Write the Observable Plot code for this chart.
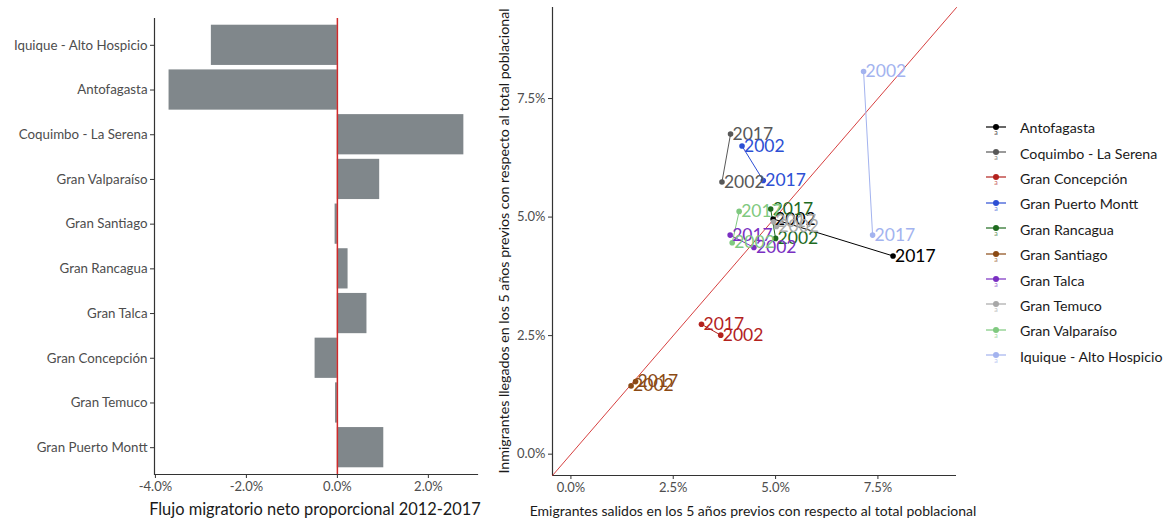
<!DOCTYPE html>
<html>
<head>
<meta charset="utf-8">
<script src="https://cdn.jsdelivr.net/npm/d3@7"></script>
<script src="https://cdn.jsdelivr.net/npm/@observablehq/plot@0.6"></script>
<style>
  html, body { margin: 0; padding: 0; background: #fff; }
  #wrap { position: relative; width: 1167px; height: 520px; font-family: Lato, "Open Sans", sans-serif; overflow: hidden; }
  .panel { position: absolute; top: 0; }
  .title { position: absolute; white-space: nowrap; color: #1a1a1a; }
  #legend { position: absolute; left: 984px; top: 115px; }
  .lrow { display: flex; align-items: center; height: 25.4px; font-size: 14.2px; color: #1a1a1a; }
  .lrow svg { margin-right: 12px; }
</style>
</head>
<body>
<div id="wrap">
  <div id="left" class="panel" style="left:0"></div>
  <div id="right" class="panel" style="left:490px"></div>
  <div class="title" id="xt1" style="left:315px; top:508px; transform:translate(-50%,-50%); font-size:16.4px;">Flujo migratorio neto proporcional 2012-2017</div>
  <div class="title" id="xt2" style="left:753px; top:510px; transform:translate(-50%,-50%); font-size:14px;">Emigrantes salidos en los 5 años previos con respecto al total poblacional</div>
  <div class="title" id="yt2" style="left:503px; top:241px; transform:translate(-50%,-50%) rotate(-90deg); font-size:14.2px;">Inmigrantes llegados en los 5 años previos con respecto al total poblacional</div>
  <div id="legend"></div>
</div>
<script>
// Net proportional migration flow 2012-2017, bars listed top to bottom
const barCities = ["Iquique - Alto Hospicio", "Antofagasta", "Coquimbo - La Serena", "Gran Valparaíso",
  "Gran Santiago", "Gran Rancagua", "Gran Talca", "Gran Concepción", "Gran Temuco", "Gran Puerto Montt"];
const netFlow = [-2.77, -3.70, 2.78, 0.93, -0.05, 0.235, 0.65, -0.49, -0.04, 1.02];

// Emigrants and immigrants in the previous 5 years (% of population), by census year
const cities = ["Antofagasta", "Coquimbo - La Serena", "Gran Concepción", "Gran Puerto Montt", "Gran Rancagua",
  "Gran Santiago", "Gran Talca", "Gran Temuco", "Gran Valparaíso", "Iquique - Alto Hospicio"];
const cityColors = ["#000000", "#585858", "#b3221e", "#2d4fd4", "#1f6b1f", "#8b4a14", "#7a2fc2", "#a8a8a8", "#7fc97f", "#a3b3ef"];
const years = ["2002", "2017"];
const emig2002 = [4.94, 3.69, 3.66, 4.18, 5.00, 1.47, 4.47, 5.02, 3.94, 7.15];
const inmig2002 = [4.96, 5.74, 2.51, 6.50, 4.55, 1.44, 4.36, 4.80, 4.46, 8.07];
const emig2017 = [7.87, 3.90, 3.19, 4.70, 4.88, 1.58, 3.89, 4.95, 4.11, 7.37];
const inmig2017 = [4.18, 6.75, 2.74, 5.77, 5.17, 1.53, 4.62, 4.90, 5.12, 4.62];

const leftTicks = [-4, -2, 0, 2];
const rightTicks = [0, 2.5, 5, 7.5];
const leftDomain = [-4.02, 3.08];
const rightDomain = [-0.45, 9.42];

const pct = d => d.toFixed(1) + "%";
const axisColor = "#333333";
const tickText = "#4d4d4d";
const redLine = "#d12a2a";

// ---- bar panel ----
const bars = barCities.map((c, i) => ({city: c, net: netFlow[i]}));
const left = Plot.plot({
  width: 490, height: 520,
  marginLeft: 154, marginRight: 13, marginTop: 18, marginBottom: 46,
  style: {fontFamily: "Lato, 'Open Sans', sans-serif", background: "transparent", color: tickText},
  x: {domain: leftDomain},
  y: {domain: barCities, paddingInner: 0.1, paddingOuter: 0.15, round: false},
  marks: [
    Plot.barX(bars, {y: "city", x: "net", fill: "#80878b"}),
    Plot.ruleX([0], {stroke: redLine, strokeWidth: 1.5}),
    Plot.ruleX([leftDomain[0]], {stroke: axisColor, strokeWidth: 1.2}),
    Plot.frame({anchor: "bottom", stroke: axisColor, strokeWidth: 1.2}),
    Plot.axisX({ticks: leftTicks, tickFormat: pct, tickSize: 4, tickPadding: 3, fontSize: 13, label: null, stroke: axisColor, fill: tickText}),
    Plot.axisY({tickSize: 4, tickPadding: 3, fontSize: 13.3, label: null, stroke: axisColor, fill: tickText})
  ]
});
document.getElementById("left").append(left);

// ---- scatter panel ----
const points = [];
cities.forEach((c, i) => {
  points.push({city: c, year: years[0], emig: emig2002[i], inmig: inmig2002[i]});
  points.push({city: c, year: years[1], emig: emig2017[i], inmig: inmig2017[i]});
});
const diagonal = [rightDomain[0], rightDomain[1]].map(v => ({emig: v, inmig: v}));

const right = Plot.plot({
  width: 480, height: 520,
  marginLeft: 62, marginRight: 14, marginTop: 7, marginBottom: 45,
  style: {fontFamily: "Lato, 'Open Sans', sans-serif", background: "transparent", color: tickText},
  x: {domain: rightDomain},
  y: {domain: rightDomain},
  color: {domain: cities, range: cityColors},
  marks: [
    Plot.ruleX([rightDomain[0]], {stroke: axisColor, strokeWidth: 1.2}),
    Plot.ruleY([rightDomain[0]], {stroke: axisColor, strokeWidth: 1.2}),
    Plot.line(diagonal, {x: "emig", y: "inmig", stroke: redLine, strokeWidth: 0.9}),
    Plot.line(points, {x: "emig", y: "inmig", z: "city", stroke: "city", strokeWidth: 1}),
    Plot.dot(points, {x: "emig", y: "inmig", fill: "city", r: 2.8}),
    Plot.text(points, {x: "emig", y: "inmig", text: "year", fill: "city", textAnchor: "start", dx: 2, fontSize: 17.5}),
    Plot.axisX({ticks: rightTicks, tickFormat: pct, tickSize: 4, tickPadding: 3, fontSize: 13, label: null, stroke: axisColor, fill: tickText}),
    Plot.axisY({ticks: rightTicks, tickFormat: pct, tickSize: 4, tickPadding: 3, fontSize: 13, label: null, stroke: axisColor, fill: tickText})
  ]
});
document.getElementById("right").append(right);

// ---- legend ----
const legend = d3.select("#legend");
cities.forEach((c, i) => {
  const row = legend.append("div").attr("class", "lrow");
  const s = row.append("svg").attr("width", 24).attr("height", 18);
  s.append("line").attr("x1", 2).attr("x2", 22).attr("y1", 8).attr("y2", 8)
    .attr("stroke", cityColors[i]).attr("stroke-width", 1.2);
  s.append("circle").attr("cx", 12).attr("cy", 8).attr("r", 3).attr("fill", cityColors[i]);
  s.append("text").attr("x", 12).attr("y", 16).attr("text-anchor", "middle")
    .attr("font-size", 7).attr("fill", cityColors[i]).attr("opacity", 0.7).text("a");
  row.append("span").text(c);
});
</script>
</body>
</html>
